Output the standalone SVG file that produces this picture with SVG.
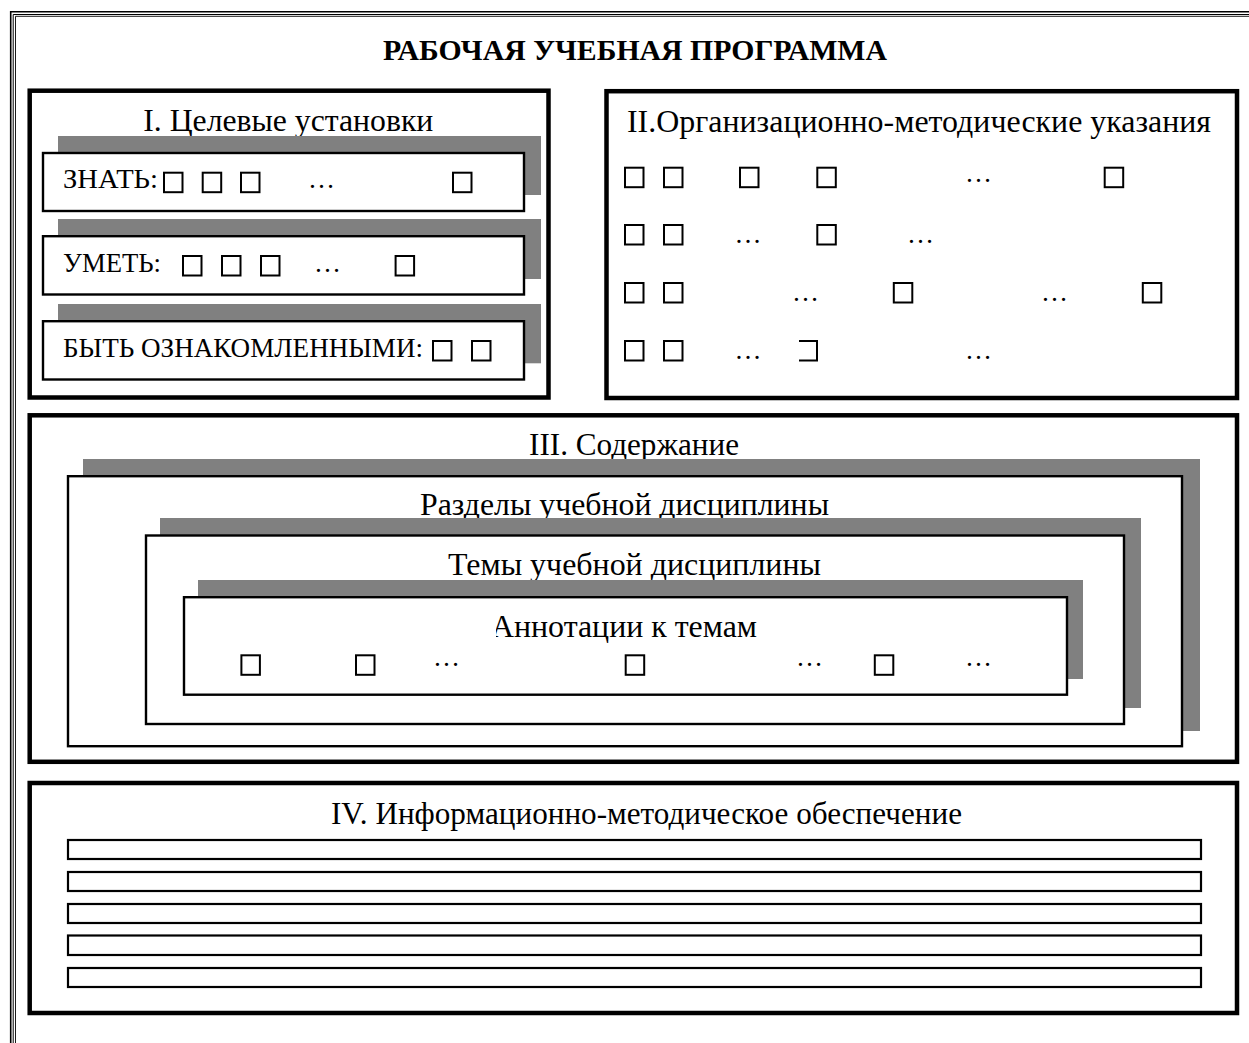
<svg xmlns="http://www.w3.org/2000/svg" width="1249" height="1043" viewBox="0 0 1249 1043">
<style>
text{font-family:"Liberation Serif","Times New Roman",serif;fill:#000}
.title{font-size:29.5px;font-weight:bold}
.head{font-size:32px}
.body{font-size:27px}
.frame{fill:#fff;stroke:#000;stroke-width:4.5}
.box{fill:#fff;stroke:#000;stroke-width:2.4}
.shadow{fill:#808080;stroke:none}
.sq{fill:#fff;stroke:#000;stroke-width:2}
.bar{fill:#fff;stroke:#000;stroke-width:2.2}
.border{fill:none;stroke:#000}
</style>
<defs>
<clipPath id="annClip"><rect x="496" y="600" width="400" height="50"/></clipPath>
</defs>
<rect x="0" y="0" width="1249" height="1043" fill="#fff"/>
<g id="page-border">
<path class="border" d="M10.7,1043 V11.7 H1249" stroke-width="1.6"/>
<path class="border" d="M13.2,1043 V14.5 H1249" stroke-width="1"/>
<path class="border" d="M15.5,1043 V16.3 H1249" stroke-width="0.9" stroke="#333"/>
</g>
<g id="title">
<text class="title" x="383" y="60" textLength="504" lengthAdjust="spacingAndGlyphs">РАБОЧАЯ УЧЕБНАЯ ПРОГРАММА</text>
</g>
<g id="section-1">
<rect class="frame" x="29.7" y="90.7" width="518.8" height="306.8"/>
<text class="head" x="143.3" y="131" textLength="290" lengthAdjust="spacingAndGlyphs">I. Целевые установки</text>
<g id="know">
<rect class="shadow" x="58" y="136" width="483" height="59"/>
<rect class="box" x="43" y="153" width="481" height="58"/>
<text class="body" x="63" y="188.3" textLength="95" lengthAdjust="spacingAndGlyphs">ЗНАТЬ:</text>
<rect class="sq" x="164" y="172.7" width="18.5" height="19.5"/>
<rect class="sq" x="202.7" y="172.7" width="18.5" height="19.5"/>
<rect class="sq" x="241" y="172.7" width="18.5" height="19.5"/>
<text class="body" x="308" y="188">…</text>
<rect class="sq" x="453" y="172.7" width="18.5" height="19.5"/>
</g>
<g id="can">
<rect class="shadow" x="58" y="219" width="483" height="60"/>
<rect class="box" x="43" y="236.2" width="481" height="58.3"/>
<text class="body" x="63" y="271.7" textLength="98" lengthAdjust="spacingAndGlyphs">УМЕТЬ:</text>
<rect class="sq" x="183" y="256" width="18.5" height="19.5"/>
<rect class="sq" x="222" y="256" width="18.5" height="19.5"/>
<rect class="sq" x="261" y="256" width="18.5" height="19.5"/>
<text class="body" x="314" y="271.5">…</text>
<rect class="sq" x="395.6" y="256" width="18.5" height="19.5"/>
</g>
<g id="familiar">
<rect class="shadow" x="58" y="304" width="483" height="59.3"/>
<rect class="box" x="43" y="321.2" width="481" height="58.3"/>
<text class="body" x="63" y="356.7" textLength="360" lengthAdjust="spacingAndGlyphs">БЫТЬ ОЗНАКОМЛЕННЫМИ:</text>
<rect class="sq" x="433" y="341" width="18.5" height="19.5"/>
<rect class="sq" x="472" y="341" width="18.5" height="19.5"/>
</g>
</g>
<g id="section-2">
<rect class="frame" x="606.5" y="91.2" width="630.5" height="306.8"/>
<text class="head" x="627" y="131.5" textLength="584" lengthAdjust="spacingAndGlyphs">II.Организационно-методические указания</text>
<g id="row1">
<rect class="sq" x="625" y="167.7" width="18.5" height="19.5"/>
<rect class="sq" x="664" y="167.7" width="18.5" height="19.5"/>
<rect class="sq" x="740" y="167.7" width="18.5" height="19.5"/>
<rect class="sq" x="817.3" y="167.7" width="18.5" height="19.5"/>
<text class="body" x="965" y="181.5">…</text>
<rect class="sq" x="1104.7" y="167.7" width="18.5" height="19.5"/>
</g>
<g id="row2">
<rect class="sq" x="625" y="225" width="18.5" height="19.5"/>
<rect class="sq" x="664" y="225" width="18.5" height="19.5"/>
<text class="body" x="734.5" y="243">…</text>
<rect class="sq" x="817.3" y="225" width="18.5" height="19.5"/>
<text class="body" x="907" y="243">…</text>
</g>
<g id="row3">
<rect class="sq" x="625" y="283" width="18.5" height="19.5"/>
<rect class="sq" x="664" y="283" width="18.5" height="19.5"/>
<text class="body" x="792" y="301">…</text>
<rect class="sq" x="893.8" y="283" width="18.5" height="19.5"/>
<text class="body" x="1041" y="301">…</text>
<rect class="sq" x="1142.8" y="283" width="18.5" height="19.5"/>
</g>
<g id="row4">
<rect class="sq" x="625" y="341" width="18.5" height="19.5"/>
<rect class="sq" x="664" y="341" width="18.5" height="19.5"/>
<text class="body" x="734.5" y="358.5">…</text>
<path d="M799,341 H817 V360.5 H799" fill="none" stroke="#000" stroke-width="2"/>
<text class="body" x="965" y="358.5">…</text>
</g>
</g>
<g id="section-3">
<rect class="frame" x="29.7" y="415.3" width="1207.3" height="346.5"/>
<text class="head" x="529" y="455" textLength="210" lengthAdjust="spacingAndGlyphs">III. Содержание</text>
<g id="sections">
<rect class="shadow" x="83" y="459" width="1117" height="272"/>
<rect class="box" x="68" y="476.2" width="1114" height="270"/>
<text class="head" x="420" y="515" textLength="409" lengthAdjust="spacingAndGlyphs">Разделы учебной дисциплины</text>
</g>
<g id="topics">
<rect class="shadow" x="160" y="518" width="981" height="190"/>
<rect class="box" x="146" y="535.5" width="978" height="188.5"/>
<text class="head" x="448" y="575" textLength="373" lengthAdjust="spacingAndGlyphs">Темы учебной дисциплины</text>
</g>
<g id="annotations">
<rect class="shadow" x="198" y="580" width="885" height="99"/>
<rect class="box" x="184" y="597.2" width="883" height="97.5"/>
<text class="head" x="491" y="636.7" textLength="266" lengthAdjust="spacingAndGlyphs" clip-path="url(#annClip)">Аннотации к темам</text>
<rect class="sq" x="241.4" y="655.3" width="18.5" height="19.5"/>
<rect class="sq" x="356" y="655.3" width="18.5" height="19.5"/>
<text class="body" x="433" y="665.5">…</text>
<rect class="sq" x="625.7" y="655.3" width="18.5" height="19.5"/>
<text class="body" x="796" y="665.5">…</text>
<rect class="sq" x="874.8" y="655.3" width="18.5" height="19.5"/>
<text class="body" x="965" y="665.5">…</text>
</g>
</g>
<g id="section-4">
<rect class="frame" x="29.7" y="783" width="1207.3" height="230"/>
<text class="head" x="331" y="824" textLength="631" lengthAdjust="spacingAndGlyphs">IV. Информационно-методическое обеспечение</text>
<rect class="bar" x="68" y="840" width="1133" height="19"/>
<rect class="bar" x="68" y="872" width="1133" height="19"/>
<rect class="bar" x="68" y="904" width="1133" height="19"/>
<rect class="bar" x="68" y="935.5" width="1133" height="19.5"/>
<rect class="bar" x="68" y="968" width="1133" height="19"/>
</g>
<g id="connectors"/>
</svg>
